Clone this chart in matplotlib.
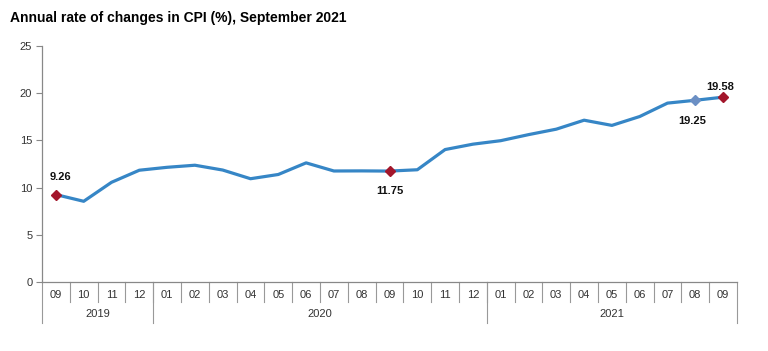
import matplotlib
matplotlib.use("Agg")
import matplotlib.pyplot as plt
import matplotlib.transforms as mtransforms

plt.rcParams['font.family'] = ['Liberation Sans', 'DejaVu Sans']

months = ["09", "10", "11", "12",
          "01", "02", "03", "04", "05", "06", "07", "08", "09", "10", "11", "12",
          "01", "02", "03", "04", "05", "06", "07", "08", "09"]
years = ["2019", "2020", "2021"]
year_counts = [4, 12, 9]
cpi = [9.26, 8.55, 10.56, 11.84,
       12.15, 12.37, 11.86, 10.94, 11.39, 12.62, 11.76, 11.77, 11.75, 11.89, 14.03, 14.60,
       14.97, 15.61, 16.19, 17.14, 16.59, 17.53, 18.95, 19.25, 19.58]
title = "Annual rate of changes in CPI (%), September 2021"

red_idx = [0, 12, 24]
blue_idx = [23]
# label offsets in points (dx, dy) and vertical alignment
label_pos = {0: (3, 9, "bottom"), 24: (-2, 4, "bottom"),
             12: (0, -11, "top"), 23: (-2, -11, "top")}

W, H = 768, 351
fig = plt.figure(figsize=(W / 100, H / 100), dpi=100)
ax_left, ax_right, ax_bottom, ax_top = 42, 737, 282, 46
ax = fig.add_axes([ax_left / W, (H - ax_bottom) / H, (ax_right - ax_left) / W,
                   (ax_bottom - ax_top) / H])

x = list(range(len(cpi)))
ax.plot(x, cpi, color="#3686c6", lw=2.3, solid_joinstyle="round", zorder=2)
ax.plot([x[i] for i in red_idx], [cpi[i] for i in red_idx], ls="none", marker="D",
        ms=5.2, color="#a3162b", zorder=3)
ax.plot([x[i] for i in blue_idx], [cpi[i] for i in blue_idx], ls="none", marker="D",
        ms=5.2, color="#6b8fc4", zorder=3)
for i, (dx, dy, va) in label_pos.items():
    ax.annotate(f"{cpi[i]:.2f}", (x[i], cpi[i]), xytext=(dx, dy), textcoords="offset points",
                ha="center", va=va, fontsize=8, fontweight="bold", color="#111111")

ax.set_xlim(-0.5, len(cpi) - 0.5)
ax.set_ylim(0, 25)
ax.set_yticks([0, 5, 10, 15, 20, 25])
ax.tick_params(axis="y", direction="out", length=4, color="#888888", labelsize=8,
               labelcolor="#333333", pad=3)
ax.set_xticks([])
for s in ["top", "right"]:
    ax.spines[s].set_visible(False)
ax.spines["left"].set_color("#888888")
ax.spines["bottom"].set_color("#888888")
ax.spines["bottom"].set_linewidth(0.9)
ax.spines["left"].set_linewidth(0.9)

trans = mtransforms.blended_transform_factory(ax.transData, ax.transAxes)
axh = ax_bottom - ax_top
m_sep = -20 / axh
y_sep = -41 / axh
m_lab = -13 / axh
y_lab = -32 / axh

for i, m in enumerate(months):
    ax.text(i, m_lab, m, transform=trans, ha="center", va="center", fontsize=8,
            color="#333333")
for i in range(1, len(months)):
    ax.plot([i - 0.5, i - 0.5], [0, m_sep], transform=trans, color="#999999", lw=0.8,
            clip_on=False)
bounds = [-0.5]
for cnt in year_counts:
    bounds.append(bounds[-1] + cnt)
for b in bounds:
    ax.plot([b, b], [0, y_sep], transform=trans, color="#999999", lw=0.8, clip_on=False)
for k, yname in enumerate(years):
    ax.text((bounds[k] + bounds[k + 1]) / 2, y_lab, yname, transform=trans, ha="center",
            va="center", fontsize=8, color="#333333")

fig.text(10 / W, 1 - 18 / H, title, ha="left", va="center", fontsize=10,
         fontweight="bold", color="#000000")

fig.savefig("out.png", dpi=100, facecolor="white")
